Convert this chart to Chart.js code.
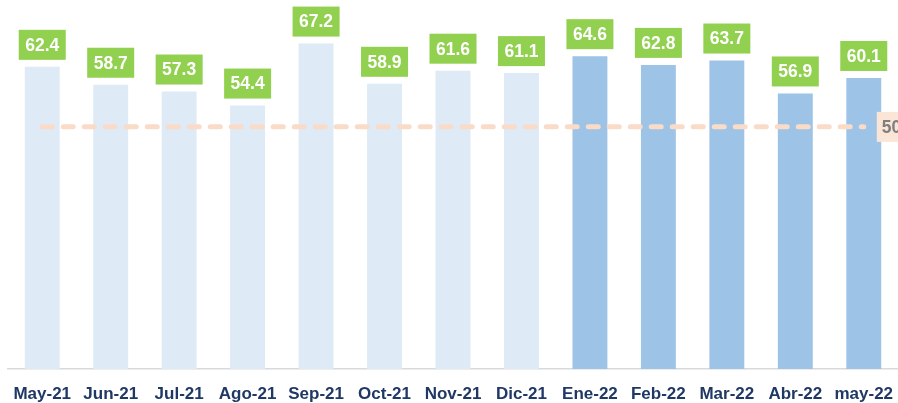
<!DOCTYPE html>
<html>
<head>
<meta charset="utf-8">
<script src="https://cdn.jsdelivr.net/npm/chart.js@4"></script>
<style>
  html, body { margin: 0; padding: 0; background: #fff; }
  #wrap { width: 898px; height: 403px; position: relative; }
</style>
</head>
<body>
<div id="wrap"><canvas id="c"></canvas></div>
<script>
// data
var months = ['May-21', 'Jun-21', 'Jul-21', 'Ago-21', 'Sep-21', 'Oct-21', 'Nov-21', 'Dic-21',
              'Ene-22', 'Feb-22', 'Mar-22', 'Abr-22', 'may-22'];
var values = [62.4, 58.7, 57.3, 54.4, 67.2, 58.9, 61.6, 61.1, 64.6, 62.8, 63.7, 56.9, 60.1];
var years = [2021, 2021, 2021, 2021, 2021, 2021, 2021, 2021, 2022, 2022, 2022, 2022, 2022];
var threshold = 50;

var barColors = years.map(function (y) { return y === 2021 ? '#DEEAF6' : '#9DC3E6'; });
var thresholdLine = months.map(function () { return threshold; });

// green value boxes above the bars, plus the "50" tag at the end of the dashed line
var labelsPlugin = {
    id: 'boxLabels',
    afterDatasetsDraw: function (chart) {
        var ctx = chart.ctx;
        var meta = chart.getDatasetMeta(1);
        ctx.save();
        ctx.font = 'bold 17.5px "Liberation Sans", Arial, sans-serif';
        ctx.textAlign = 'center';
        ctx.textBaseline = 'middle';
        meta.data.forEach(function (bar, i) {
            var w = 47, h = 30;
            var bottom = bar.y - 7;
            ctx.fillStyle = '#92D050';
            ctx.fillRect(bar.x - w / 2, bottom - h, w, h);
            ctx.fillStyle = '#ffffff';
            ctx.fillText(values[i].toFixed(1), bar.x, bottom - h / 2 + 1);
        });

        var line = chart.getDatasetMeta(0).data;
        var last = line[line.length - 1];
        ctx.fillStyle = '#FBE5D6';
        ctx.fillRect(last.x + 13, last.y - 15, 40, 30);
        ctx.fillStyle = '#7F7F7F';
        ctx.textAlign = 'left';
        ctx.fillText(String(threshold), last.x + 18, last.y + 1);
        ctx.restore();
    }
};

new Chart(document.getElementById('c'), {
    data: {
        labels: months,
        datasets: [
            {
                type: 'line',
                data: thresholdLine,
                borderColor: '#FADBC8',
                borderWidth: 5,
                borderDash: [10, 11],
                borderCapStyle: 'round',
                pointRadius: 0,
                fill: false,
                order: 0
            },
            {
                type: 'bar',
                data: values,
                backgroundColor: barColors,
                barPercentage: 0.51,
                categoryPercentage: 1,
                order: 1
            }
        ]
    },
    options: {
        responsive: true,
        maintainAspectRatio: false,
        animation: false,
        layout: { padding: { left: 8, right: 0, top: 0, bottom: 0 } },
        plugins: { legend: { display: false }, tooltip: { enabled: false } },
        scales: {
            x: {
                grid: { display: false, drawTicks: false },
                border: { display: true, color: '#D9D9D9', width: 1.5 },
                ticks: {
                    color: '#1F3864',
                    padding: 15,
                    maxRotation: 0,
                    autoSkip: false,
                    font: { family: '"Liberation Sans", Arial, sans-serif', size: 17, weight: 'bold' }
                },
                afterFit: function (scale) {
                    scale.height = 34;
                    scale.paddingLeft = 0;
                    scale.paddingRight = 0;
                }
            },
            y: {
                display: false,
                min: 0,
                max: 76.2
            }
        }
    },
    plugins: [labelsPlugin]
});
</script>
</body>
</html>
